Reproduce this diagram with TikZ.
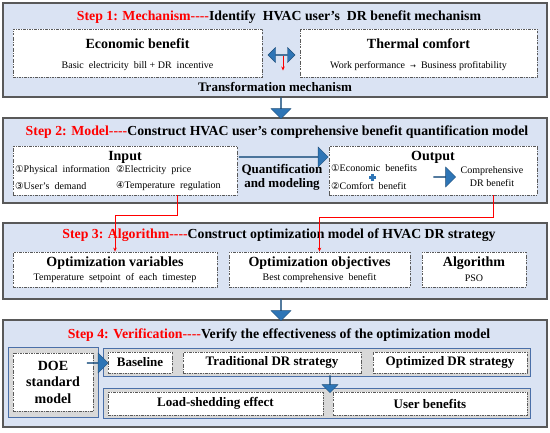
\documentclass[tikz,border=0pt]{standalone}
\usepackage{fontspec}
\setmainfont{Liberation Serif}
\newfontfamily\symf{DejaVu Sans}
\usetikzlibrary{shapes.arrows,arrows.meta,calc}
\definecolor{panelbg}{HTML}{DAE3F3}
\definecolor{panelbd}{HTML}{595959}
\definecolor{arrblue}{HTML}{2E75B6}
\definecolor{arrbd}{HTML}{1F4E79}
\definecolor{graybg}{HTML}{D9D9D9}
\definecolor{graybd}{HTML}{4A6FA8}
\newcommand{\cn}[1]{{\symf\fontsize{9.5}{10}\selectfont #1}}
\newcommand{\hyq}{\mbox{-}\mbox{-}\mbox{-}\mbox{-}}
\tikzset{
  panel/.style={draw=panelbd, line width=1.3pt, fill=panelbg, inner sep=0pt},
  dbox/.style={draw=panelbd, fill=white, line width=0.8pt, dash pattern=on 2.5pt off 1.2pt on 0.6pt off 1.2pt, inner sep=0pt},
  gbox/.style={draw=graybd, fill=graybg, line width=0.9pt, inner sep=0pt},
  ttl/.style={font=\bfseries\fontsize{13.8}{15}\selectfont, inner sep=0pt},
  hd/.style={font=\bfseries\fontsize{14}{16}\selectfont, inner sep=0pt},
  hdm/.style={font=\bfseries\fontsize{13}{15}\selectfont, inner sep=0pt},
  sm/.style={font=\fontsize{10}{12}\selectfont, inner sep=0pt},
  redarr/.style={draw=red, line width=0.8pt, -{Stealth[length=4pt,width=3.5pt]}},
  downarr/.style={single arrow, shape border rotate=270, fill=arrblue, draw=arrbd, line width=0.4pt, inner sep=0pt},
  rightarr/.style={single arrow, fill=arrblue, draw=arrbd, line width=0.4pt, inner sep=0pt},
}
\begin{document}
\begin{tikzpicture}[x=1pt,y=-1pt]
\useasboundingbox (0,0) rectangle (550,433);
% panels
\node[panel, minimum width=544, minimum height=94] (p1) at (275,50) {};
\node[panel, minimum width=544, minimum height=85] (p2) at (275,160.5) {};
\node[panel, minimum width=544, minimum height=76] (p3) at (275,261) {};
\node[panel, minimum width=544, minimum height=107] (p4) at (275,373.5) {};
% arrows between panels
\node[downarr, minimum width=20, minimum height=21, single arrow head extend=6] (a12) at (281,108) {};
\node[downarr, minimum width=20, minimum height=21, single arrow head extend=6] (a34) at (281,310) {};
% ===== Step 1
\node[ttl] (t1) at (279,17) {\textcolor{red}{Step 1: Mechanism\hyq}Identify\ \ HVAC user’s\ \ DR benefit mechanism};
\node[dbox, minimum width=249, minimum height=48] (eco) at (137.5,53) {};
\node[dbox, minimum width=237, minimum height=48] (thm) at (418.5,53) {};
\node[hd] (ecot) at (137.5,44) {Economic benefit};
\node[sm] (ecos) at (137.5,66) {Basic\ \ electricity\ \ bill + DR\ \ incentive};
\node[hd] (thmt) at (418.5,44) {Thermal comfort};
\node[sm] (thms) at (418.5,66) {Work performance\ \ {\symf\fontsize{7}{8}\selectfont →}\ \ Business profitability};
\node[double arrow, fill=arrblue, draw=arrbd, line width=0.4pt, inner sep=0pt, minimum width=15, minimum height=27, double arrow head extend=4] (dbl) at (281.5,55) {};
\node[hdm] (trans) at (275,87) {Transformation mechanism};
\draw[redarr] ([xshift=1.5pt]dbl.south) -- ++(0,15);
% ===== Step 2
\node[ttl] (t2) at (277,132) {\textcolor{red}{Step 2: Model\hyq}Construct HVAC user’s comprehensive benefit quantification model};
\node[dbox, minimum width=224, minimum height=49] (inp) at (125,170.5) {};
\node[dbox, minimum width=208, minimum height=49] (out) at (433,170.5) {};
\node[hd] (inpt) at (125,157) {Input};
\node[sm, anchor=west] (i1) at (15,170) {\cn{①}Physical\ \ information};
\node[sm, anchor=west] (i2) at (116,170) {\cn{②}Electricity\ \ price};
\node[sm, anchor=west] (i3) at (15,186) {\cn{③}User’s\ \ demand};
\node[sm, anchor=west] (i4) at (116,186) {\cn{④}Temperature\ \ regulation};
\node[rightarr, minimum width=20, minimum height=89, single arrow head extend=5] (qarr) at (283.5,157) {};
\node[hdm, align=center] (qm) at (282,177.5) {Quantification\\[-1pt]and modeling};
\node[hd] (outt) at (433,157) {Output};
\node[sm, anchor=west] (o1) at (331,168) {\cn{①}Economic\ \ benefits};
\node[sm, anchor=west] (o2) at (331,186) {\cn{②}Comfort\ \ benefit};
\fill[arrblue] (368.5,176.5) rectangle (375.5,179.5);
\fill[arrblue] (370.5,174.5) rectangle (373.5,181.5);
\node[rightarr, minimum width=20, minimum height=22, single arrow head extend=5] (oarr) at (444.5,177) {};
\node[sm, align=center] (comp) at (492,177) {Comprehensive\\[1pt]DR benefit};
% ===== Step 3
\node[ttl] (t3) at (279,235) {\textcolor{red}{Step 3: Algorithm\hyq}Construct optimization model of HVAC DR strategy};
\node[dbox, minimum width=204, minimum height=35] (ovar) at (115,269.5) {};
\node[dbox, minimum width=181, minimum height=35] (oobj) at (319.5,269.5) {};
\node[dbox, minimum width=104, minimum height=35] (alg) at (474,269.5) {};
\node[hd] (ovart) at (115,263) {Optimization variables};
\node[sm] (ovars) at (115,278.5) {Temperature\ \ setpoint\ \ of\ \ each\ \ timestep};
\node[hd] (oobjt) at (319.5,263) {Optimization objectives};
\node[sm] (oobjs) at (319.5,278.5) {Best comprehensive\ \ benefit};
\node[hd] (algt) at (474,263) {Algorithm};
\node[sm] (algs) at (474,278.5) {PSO};
\draw[redarr] ([xshift=52pt]inp.south) -- ++(0,20) -| (ovar.north);
\draw[redarr] ([xshift=60pt]out.south) -- ++(0,22) -| (oobj.north);
% ===== Step 4
\node[ttl] (t4) at (279,335) {\textcolor{red}{Step 4: Verification\hyq}Verify the effectiveness of the optimization model};
\node[gbox, minimum width=90, minimum height=70] (doeo) at (53,382) {};
\node[dbox, minimum width=80, minimum height=58, align=center, font=\bfseries\fontsize{14}{16.5}\selectfont] (doe) at (53,382) {DOE\\standard\\model};
\node[gbox, minimum width=427, minimum height=28] (row1) at (316.5,362) {};
\node[gbox, minimum width=427, minimum height=30] (row2) at (316.5,403) {};
\node[dbox, minimum width=64, minimum height=21, hdm] (base) at (140,362.5) {Baseline};
\node[dbox, minimum width=178, minimum height=21, hdm] (trad) at (272,362.5) {Traditional DR strategy};
\node[dbox, minimum width=154, minimum height=21, hdm] (optd) at (450,362.5) {Optimized DR strategy};
\node[dbox, minimum width=215, minimum height=23, hdm] (load) at (215.5,403.5) {Load-shedding effect};
\node[dbox, minimum width=194, minimum height=23, hdm] (user) at (430,403.5) {User benefits};
\node[rightarr, minimum width=20, minimum height=21, single arrow head extend=5] (darr) at (97.5,363) {};
\node[downarr, minimum width=16, minimum height=17, single arrow head extend=4] (varr) at (330,384) {};
\end{tikzpicture}
\end{document}
